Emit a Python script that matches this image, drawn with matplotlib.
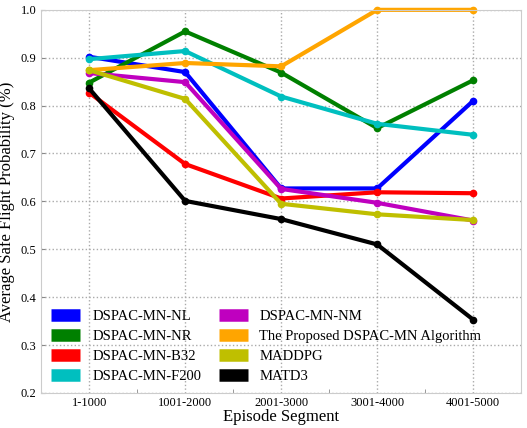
import numpy as np
import matplotlib
matplotlib.use("Agg")
import matplotlib.pyplot as plt
from matplotlib.lines import Line2D

plt.rcParams['font.family'] = ['Liberation Serif', 'DejaVu Serif']

segments = ["1-1000", "1001-2000", "2001-3000", "3001-4000", "4001-5000"]

nl = [0.902, 0.870, 0.627, 0.627, 0.810]
nr = [0.848, 0.955, 0.869, 0.753, 0.853]
b32 = [0.827, 0.678, 0.606, 0.619, 0.617]
f200 = [0.897, 0.914, 0.819, 0.762, 0.739]
nm = [0.868, 0.849, 0.626, 0.597, 0.560]
proposed = [0.874, 0.889, 0.882, 1.0, 1.0]
maddpg = [0.874, 0.814, 0.595, 0.573, 0.561]
matd3 = [0.836, 0.601, 0.563, 0.510, 0.353]

names = ["DSPAC-MN-NL", "DSPAC-MN-NR", "DSPAC-MN-B32", "DSPAC-MN-F200",
         "DSPAC-MN-NM", "The Proposed DSPAC-MN Algorithm", "MADDPG", "MATD3"]
series = [nl, nr, b32, f200, nm, proposed, maddpg, matd3]
colors = ["#0000ff", "#008000", "#ff0000", "#00bfbf",
          "#bf00bf", "#ffa500", "#bfbf00", "#000000"]

fig = plt.figure(figsize=(5.27, 4.28), dpi=100)
ax = fig.add_axes([0.078, 0.082, 0.911, 0.895])

x = np.arange(len(segments))
for vals, c in zip(series, colors):
    ax.plot(x, vals, color=c, lw=3, marker='o', ms=4.5, clip_on=False)

ax.set_xlim(-0.5, 4.5)
ax.set_ylim(0.2, 1.0)
ax.set_xticks(x)
ax.set_xticklabels(segments)
ax.set_xticks(x[:-1] + 0.5, minor=True)
ax.set_yticks(np.arange(0.2, 1.01, 0.1))
ax.set_yticklabels([f"{v:.1f}" for v in np.arange(0.2, 1.01, 0.1)])
ax.tick_params(axis='both', which='both', direction='in', labelsize=9,
               color='#888888', length=3)
ax.tick_params(axis='x', which='major', length=0, pad=3)
ax.grid(True, which='major', linestyle=':', color='#aaaaaa', lw=1)
for sp in ax.spines.values():
    sp.set_color('#cccccc')

ax.set_xlabel("Episode Segment", fontsize=12, labelpad=0)
ax.set_ylabel("Average Safe Flight Probability (%)", fontsize=12, labelpad=4)

# thick color swatches for the legend
handles = [Line2D([], [], color=c, lw=9, solid_capstyle='butt') for c in colors]
ax.legend(handles, names, ncol=2, loc='lower left', frameon=False,
          fontsize=10.5, handlelength=2.0, columnspacing=1.2,
          labelspacing=0.45, borderaxespad=0.3)

fig.savefig("out.png", dpi=100)
